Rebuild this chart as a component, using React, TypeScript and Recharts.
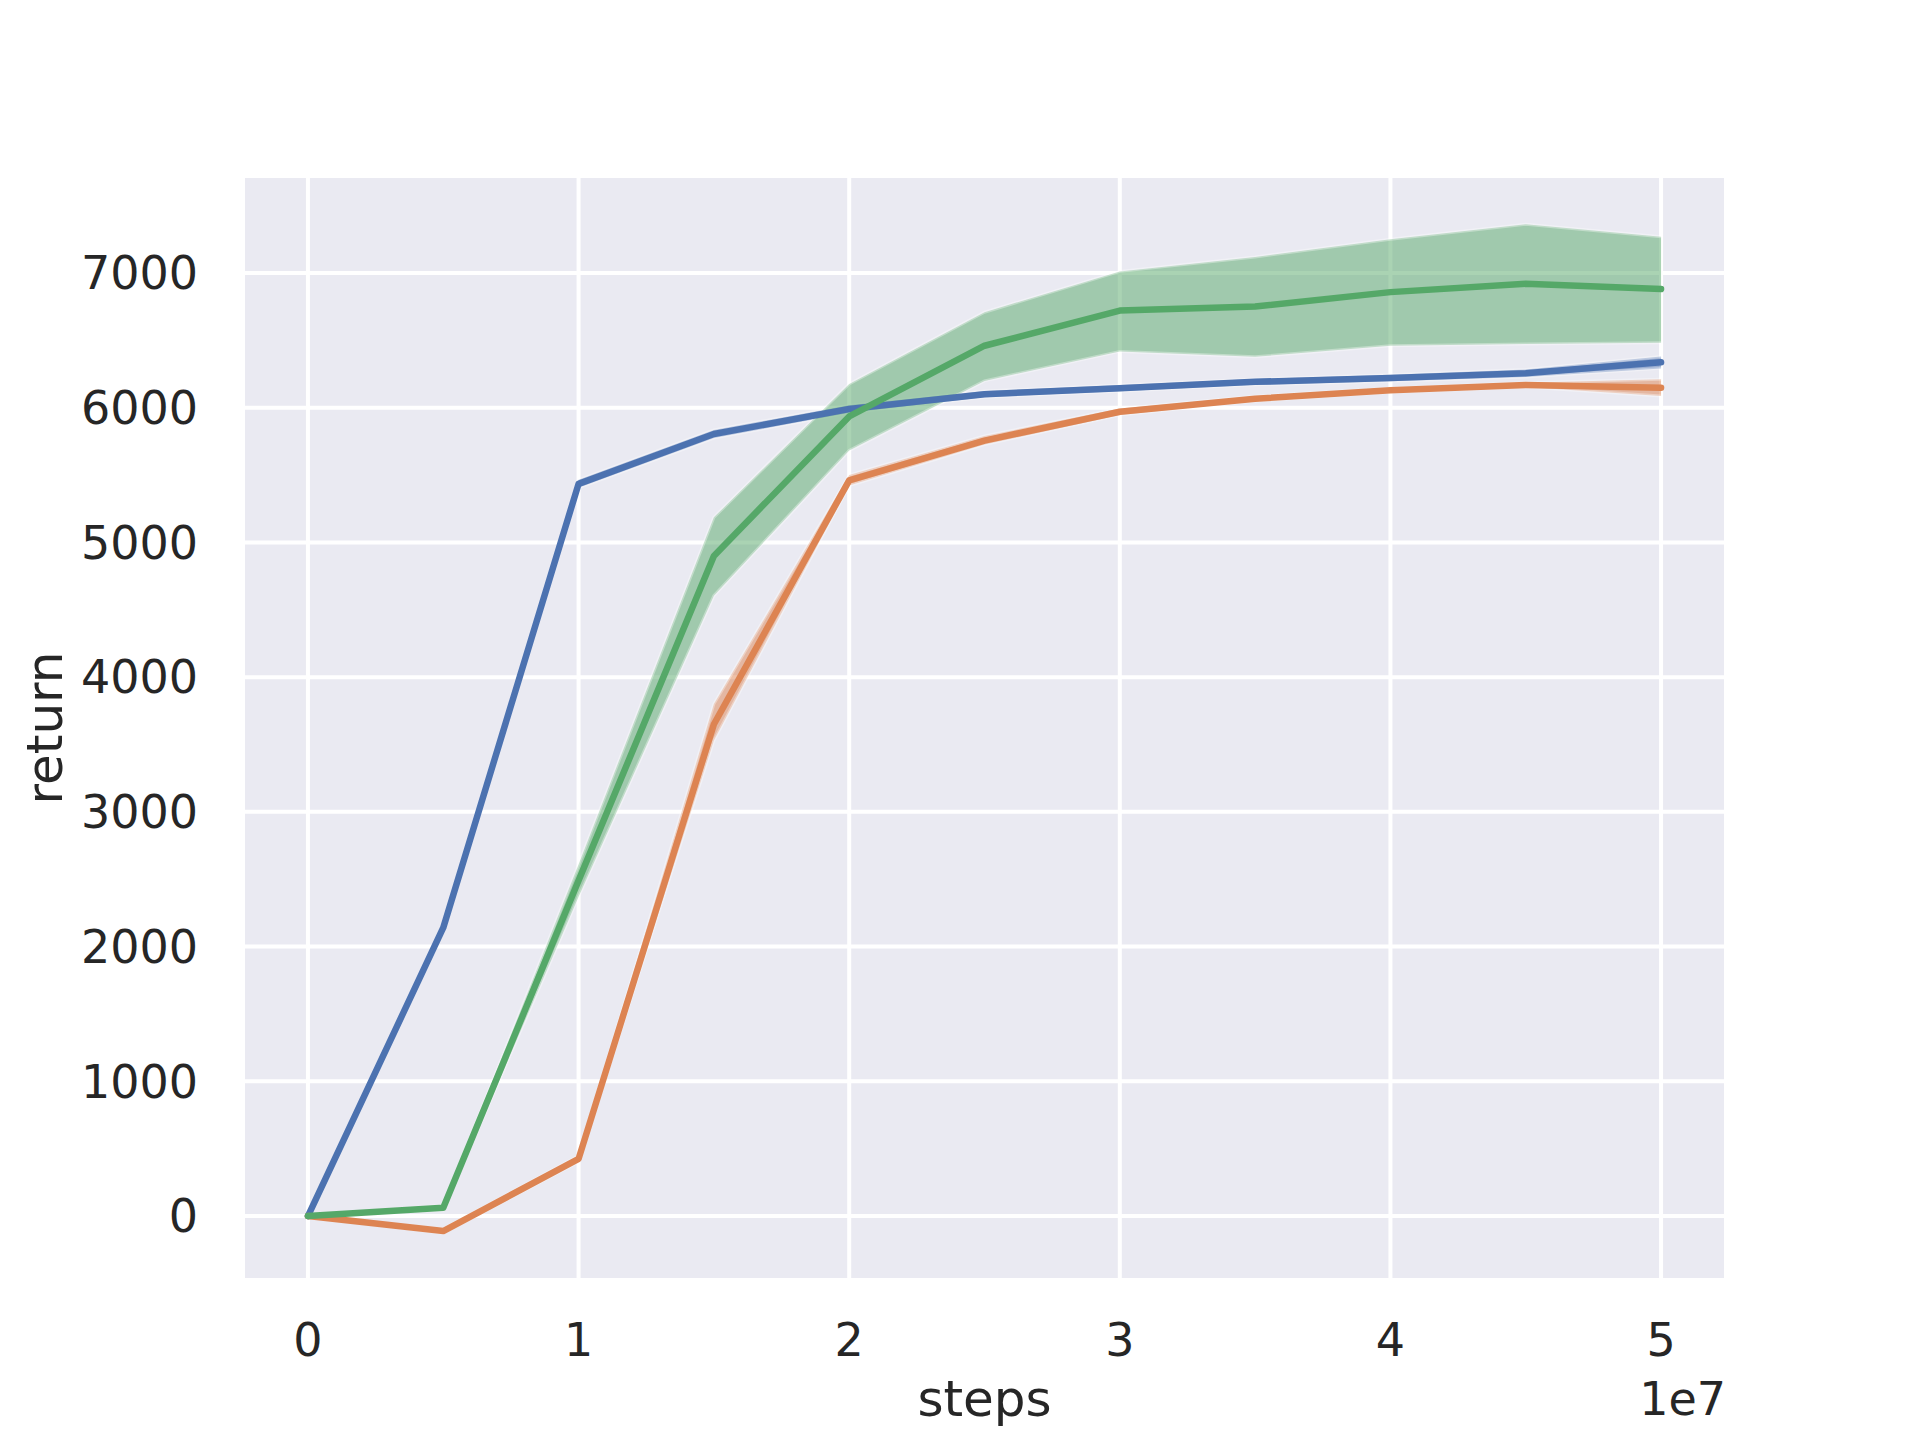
import React from "react";
import {
  ComposedChart,
  Line,
  Area,
  XAxis,
  YAxis,
  CartesianGrid,
} from "recharts";

// training steps (x axis)
const steps = [0, 5e6, 1e7, 1.5e7, 2e7, 2.5e7, 3e7, 3.5e7, 4e7, 4.5e7, 5e7];

// blue run
const blueMean = [0, 2140, 5435, 5805, 5990, 6100, 6145, 6192, 6220, 6255, 6338];
const blueLow = [0, 2115, 5405, 5775, 5962, 6078, 6122, 6170, 6196, 6228, 6292];
const blueHigh = [0, 2165, 5465, 5835, 6018, 6124, 6168, 6214, 6244, 6284, 6380];

// orange run
const orangeMean = [0, -112, 424, 3650, 5461, 5756, 5970, 6067, 6129, 6169, 6149];
const orangeLow = [0, -128, 402, 3530, 5422, 5726, 5945, 6050, 6114, 6154, 6087];
const orangeHigh = [0, -96, 446, 3800, 5500, 5790, 5995, 6085, 6145, 6185, 6211];

// green run
const greenMean = [0, 61, 2490, 4900, 5935, 6460, 6721, 6751, 6858, 6920, 6881];
const greenLow = [0, 45, 2370, 4605, 5682, 6199, 6418, 6378, 6460, 6473, 6483];
const greenHigh = [0, 80, 2610, 5186, 6176, 6709, 7012, 7119, 7251, 7361, 7269];

const xTicks = [0, 1e7, 2e7, 3e7, 4e7, 5e7];
const yTicks = [0, 1000, 2000, 3000, 4000, 5000, 6000, 7000];

const data = steps.map((s, i) => ({
  step: s,
  blue: blueMean[i],
  blueBand: [blueLow[i], blueHigh[i]],
  orange: orangeMean[i],
  orangeBand: [orangeLow[i], orangeHigh[i]],
  green: greenMean[i],
  greenBand: [greenLow[i], greenHigh[i]],
}));

const FONT = "'DejaVu Sans', sans-serif";
const INK = "#262626";

const XLabel = (props: any) => {
  const vb = props.viewBox;
  return (
    <g fontFamily={FONT} fill={INK}>
      <text x={vb.x + vb.width / 2} y={1416} textAnchor="middle" fontSize={50}>
        steps
      </text>
      <text x={vb.x + vb.width} y={1415} textAnchor="end" fontSize={46}>
        1e7
      </text>
    </g>
  );
};

const YLabel = () => {
  const cy = 176 + 1104 / 2;
  return (
    <text
      x={62}
      y={cy}
      transform={`rotate(-90 62 ${cy})`}
      textAnchor="middle"
      fontSize={50}
      fontFamily={FONT}
      fill={INK}
    >
      return
    </text>
  );
};

const series = [
  { key: "blue", color: "#4c72b0" },
  { key: "orange", color: "#dd8452" },
  { key: "green", color: "#55a868" },
];

export default function App() {
  return (
    <div style={{ position: "absolute", left: 0, top: 0, background: "#fff" }}>
      <ComposedChart
        width={1920}
        height={1440}
        data={data}
        margin={{ top: 176, right: 194, bottom: 0, left: 0 }}
      >
        <CartesianGrid
          fill="#eaeaf2"
          fillOpacity={1}
          stroke="#ffffff"
          strokeWidth={4}
        />
        <XAxis
          dataKey="step"
          type="number"
          domain={[-2.4e6, 5.24e7]}
          ticks={xTicks}
          allowDataOverflow
          tickFormatter={(v: number) => String(v / 1e7)}
          axisLine={false}
          tickLine={false}
          tickSize={0}
          tickMargin={43}
          height={160}
          tick={{ fontSize: 46, fontFamily: FONT, fill: INK }}
          label={<XLabel />}
        />
        <YAxis
          type="number"
          domain={[-475, 7720]}
          ticks={yTicks}
          allowDataOverflow
          axisLine={false}
          tickLine={false}
          tickSize={0}
          tickMargin={45}
          width={243}
          tick={{ fontSize: 46, fontFamily: FONT, fill: INK }}
          label={<YLabel />}
        />
        {series.map((s) => [
          <Area
            key={s.key + "Band"}
            type="linear"
            dataKey={s.key + "Band"}
            fill={s.color}
            fillOpacity={0.5}
            stroke="#ffffff"
            strokeOpacity={0.35}
            strokeWidth={3}
            isAnimationActive={false}
            activeDot={false}
          />,
          <Line
            key={s.key}
            type="linear"
            dataKey={s.key}
            stroke={s.color}
            strokeWidth={6.5}
            strokeLinecap="round"
            strokeLinejoin="round"
            dot={false}
            activeDot={false}
            isAnimationActive={false}
          />,
        ])}
      </ComposedChart>
    </div>
  );
}
